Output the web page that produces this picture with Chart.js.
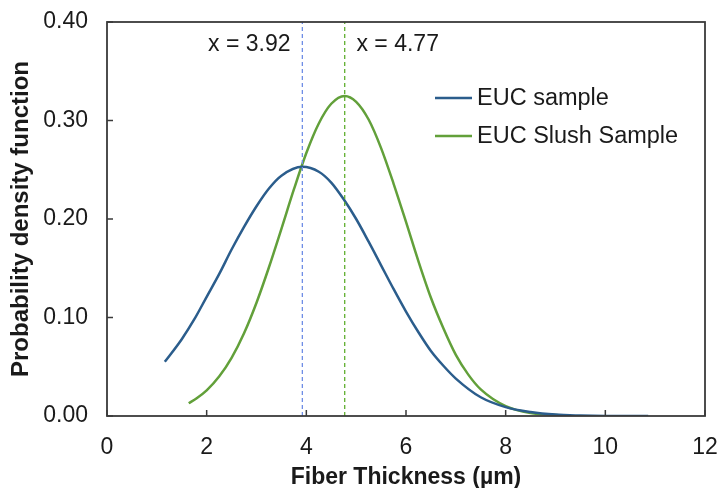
<!DOCTYPE html>
<html>
<head>
<meta charset="utf-8">
<script src="https://cdn.jsdelivr.net/npm/chart.js@4.4.0/dist/chart.umd.min.js"></script>
<style>
  html, body { margin: 0; padding: 0; background: #fff; }
  canvas { display: block; }
</style>
</head>
<body>
<canvas id="pdf_chart" width="718" height="488"></canvas>
<script>
const eucX = [1.16, 1.5, 1.75, 2, 2.25, 2.5, 2.75, 3, 3.25, 3.5, 3.92, 4.25, 4.5, 4.75, 5, 5.25, 5.5, 5.75, 6, 6.25, 6.5, 6.75, 7, 7.5, 8, 8.5, 9, 9.5, 10, 10.86];
const eucY = [0.055, 0.078, 0.098, 0.121, 0.144, 0.169, 0.192, 0.213, 0.231, 0.244, 0.253, 0.248, 0.237, 0.220, 0.200, 0.177, 0.153, 0.129, 0.106, 0.085, 0.066, 0.051, 0.038, 0.019, 0.009, 0.004, 0.0014, 0.0005, 0.0001, 0];

const slushX = [1.64, 1.8, 2, 2.25, 2.5, 2.75, 3, 3.25, 3.5, 3.75, 4, 4.25, 4.5, 4.77, 5, 5.25, 5.5, 5.75, 6, 6.25, 6.5, 6.75, 7, 7.25, 7.5, 8, 8.5, 9, 9.1];
const slushY = [0.013, 0.018, 0.026, 0.040, 0.059, 0.084, 0.115, 0.151, 0.190, 0.230, 0.267, 0.297, 0.317, 0.325, 0.319, 0.301, 0.272, 0.236, 0.197, 0.157, 0.120, 0.089, 0.062, 0.042, 0.027, 0.010, 0.003, 0.001, 0.0007];

const seriesNames = ["EUC sample", "EUC Slush Sample"];
const peakX = [3.92, 4.77];
const peakLabels = ["x = 3.92", "x = 4.77"];

const xTicks = [0, 2, 4, 6, 8, 10, 12];
const yTicks = [0, 0.1, 0.2, 0.3, 0.4];

// -----------------------------------------------------------------------------

const curveColors = ["#2b5d8c", "#62a03a"];
const dashColors = ["#6f8ee6", "#5fae2e"];
const FONT = "'Liberation Sans', Arial, sans-serif";

function toPoints(xs, ys) {
  return xs.map((x, i) => ({ x, y: ys[i] }));
}

const frameAndExtras = {
  id: "frameAndExtras",
  afterDraw(chart) {
    const { ctx, chartArea: a, scales } = chart;
    const xs = scales.x;
    const ys = scales.y;
    ctx.save();

    // ticks inside
    ctx.strokeStyle = "#3a3a3a";
    ctx.lineWidth = 1.5;
    ctx.beginPath();
    xTicks.forEach((t) => {
      const px = xs.getPixelForValue(t);
      ctx.moveTo(px, a.bottom);
      ctx.lineTo(px, a.bottom - 6);
    });
    yTicks.forEach((t) => {
      const py = ys.getPixelForValue(t);
      ctx.moveTo(a.left, py);
      ctx.lineTo(a.left + 6, py);
    });
    ctx.stroke();

    // frame
    ctx.lineWidth = 1.8;
    ctx.strokeRect(a.left, a.top, a.right - a.left, a.bottom - a.top);

    // peak labels
    ctx.fillStyle = "#1a1a1a";
    ctx.font = `23px ${FONT}`;
    ctx.textBaseline = "middle";
    ctx.textAlign = "center";
    ctx.fillText(peakLabels[0], xs.getPixelForValue(peakX[0]) - 53, a.top + 23);
    ctx.fillText(peakLabels[1], xs.getPixelForValue(peakX[1]) + 53, a.top + 23);

    // legend
    ctx.textAlign = "left";
    ctx.font = `23.5px ${FONT}`;
    seriesNames.forEach((name, i) => {
      const y = 98 + i * 38;
      ctx.strokeStyle = curveColors[i];
      ctx.lineWidth = 2.5;
      ctx.beginPath();
      ctx.moveTo(435, y);
      ctx.lineTo(472, y);
      ctx.stroke();
      ctx.fillText(name, 477, y + 1);
    });
    ctx.restore();
  },
};

const chart = new Chart(document.getElementById("pdf_chart"), {
  type: "scatter",
  data: {
    datasets: [
      {
        label: "peak1",
        data: [{ x: peakX[0], y: 0 }, { x: peakX[0], y: 0.4 }],
        showLine: true,
        borderColor: dashColors[0],
        borderWidth: 1.3,
        borderDash: [4, 3],
        pointRadius: 0,
      },
      {
        label: "peak2",
        data: [{ x: peakX[1], y: 0 }, { x: peakX[1], y: 0.4 }],
        showLine: true,
        borderColor: dashColors[1],
        borderWidth: 1.3,
        borderDash: [4, 3],
        pointRadius: 0,
      },
      {
        label: seriesNames[0],
        data: toPoints(eucX, eucY),
        showLine: true,
        borderColor: curveColors[0],
        borderWidth: 2.5,
        pointRadius: 0,
        cubicInterpolationMode: "monotone",
      },
      {
        label: seriesNames[1],
        data: toPoints(slushX, slushY),
        showLine: true,
        borderColor: curveColors[1],
        borderWidth: 2.5,
        pointRadius: 0,
        cubicInterpolationMode: "monotone",
      },
    ],
  },
  options: {
    responsive: false,
    animation: false,
    layout: { padding: { top: 22, right: 13, left: 0, bottom: 0 } },
    plugins: {
      legend: { display: false },
      tooltip: { enabled: false },
    },
    scales: {
      x: {
        type: "linear",
        min: 0,
        max: 12,
        afterFit: (s) => {
          s.height = 72;
          s.paddingLeft = 0;
          s.paddingRight = 0;
        },
        afterBuildTicks: (s) => { s.ticks = xTicks.map((v) => ({ value: v })); },
        grid: { display: false, drawTicks: false },
        border: { display: false },
        ticks: {
          color: "#1a1a1a",
          font: { family: FONT, size: 23 },
          padding: 18,
          maxRotation: 0,
        },
        title: {
          display: true,
          text: "Fiber Thickness (µm)",
          color: "#1a1a1a",
          font: { family: FONT, size: 23, weight: "bold", lineHeight: 1 },
          padding: { top: 0, bottom: -1 },
        },
      },
      y: {
        min: 0,
        max: 0.4,
        afterFit: (s) => {
          s.width = 107;
          s.paddingTop = 0;
          s.paddingBottom = 0;
        },
        afterBuildTicks: (s) => { s.ticks = yTicks.map((v) => ({ value: v })); },
        grid: { display: false, drawTicks: false },
        border: { display: false },
        ticks: {
          color: "#1a1a1a",
          font: { family: FONT, size: 23 },
          padding: 19,
          callback: (v) => Number(v).toFixed(2),
        },
        title: {
          display: true,
          text: "Probability density function",
          color: "#1a1a1a",
          font: { family: FONT, size: 24, weight: "bold", lineHeight: 1 },
          padding: { top: 9, bottom: 0 },
        },
      },
    },
  },
  plugins: [frameAndExtras],
});
</script>
</body>
</html>
